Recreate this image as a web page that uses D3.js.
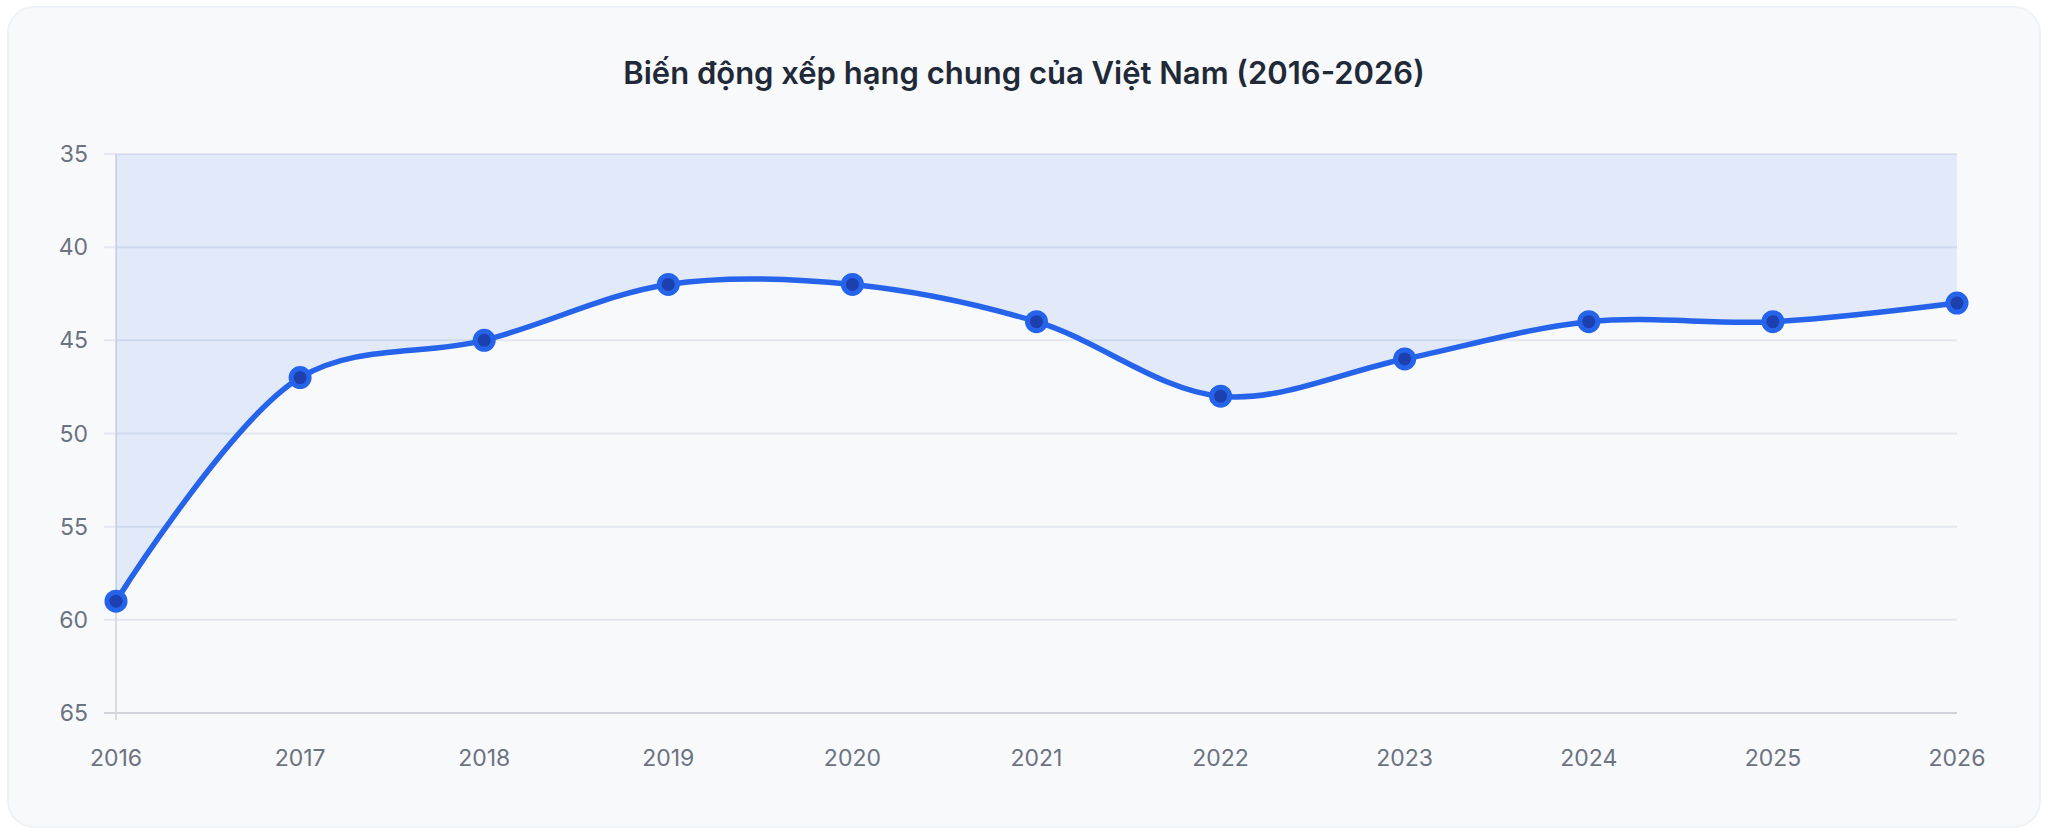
<!DOCTYPE html>
<html><head><meta charset="utf-8">
<script src="https://cdn.jsdelivr.net/npm/d3@7"></script>
<style>
body{margin:0;background:#fff;font-family:Inter,"Noto Sans",sans-serif;}
</style></head>
<body><div id="chart"></div>
<script>
var years = [2016, 2017, 2018, 2019, 2020, 2021, 2022, 2023, 2024, 2025, 2026];
var ranks = [59, 47, 45, 42, 42, 44, 48, 46, 44, 44, 43];
var yTicks = [35, 40, 45, 50, 55, 60, 65];
var title = "Biến động xếp hạng chung của Việt Nam (2016-2026)";

var w = 2048, h = 833;
var svg = d3.select("#chart").append("svg").attr("width", w).attr("height", h);

svg.append("rect").attr("x", 8).attr("y", 7).attr("width", 2032).attr("height", 820)
    .attr("rx", 26).attr("fill", "#f8f9fb").attr("stroke", "#eef1f5").attr("stroke-width", 2);

svg.append("text").attr("x", w / 2).attr("y", 84).attr("text-anchor", "middle")
    .attr("font-size", 31).attr("font-weight", 600).attr("fill", "#1f2937").text(title);

var x = d3.scalePoint().domain(years).range([116, 1957]);
var y = d3.scaleLinear().domain([35, 65]).range([154, 713]);

// grid
svg.append("g").selectAll("line").data(yTicks).join("line")
    .attr("x1", 104).attr("x2", 1957)
    .attr("y1", function(d) { return y(d); }).attr("y2", function(d) { return y(d); })
    .attr("stroke", function(d) { return d === 65 ? "#d1d5db" : "#e3e7ef"; }).attr("stroke-width", 2);
svg.append("line").attr("x1", 116).attr("x2", 116).attr("y1", 154).attr("y2", 720)
    .attr("stroke", "#d8dce3").attr("stroke-width", 2);

svg.append("g").selectAll("text").data(yTicks).join("text")
    .attr("x", 88).attr("y", function(d) { return y(d) + 8; }).attr("text-anchor", "end")
    .attr("font-size", 23).attr("fill", "#6b7280").text(function(d) { return d; });
svg.append("g").selectAll("text").data(years).join("text")
    .attr("x", function(d) { return x(d); }).attr("y", 766).attr("text-anchor", "middle")
    .attr("font-size", 23).attr("fill", "#6b7280").text(function(d) { return d; });

var pts = years.map(function(d, i) { return [x(d), y(ranks[i])]; });
var curve = d3.curveCatmullRom.alpha(0.5);

svg.append("path").datum(pts)
    .attr("d", d3.area().x(function(d) { return d[0]; }).y0(y(35)).y1(function(d) { return d[1]; }).curve(curve))
    .attr("fill", "rgba(37,99,235,0.1)");
svg.append("path").datum(pts)
    .attr("d", d3.line().curve(curve))
    .attr("fill", "none").attr("stroke", "#2563eb").attr("stroke-width", 5.5);

svg.append("g").selectAll("circle").data(pts).join("circle")
    .attr("cx", function(d) { return d[0]; }).attr("cy", function(d) { return d[1]; })
    .attr("r", 9).attr("fill", "#1e40af").attr("stroke", "#2563eb").attr("stroke-width", 5);
</script></body></html>
